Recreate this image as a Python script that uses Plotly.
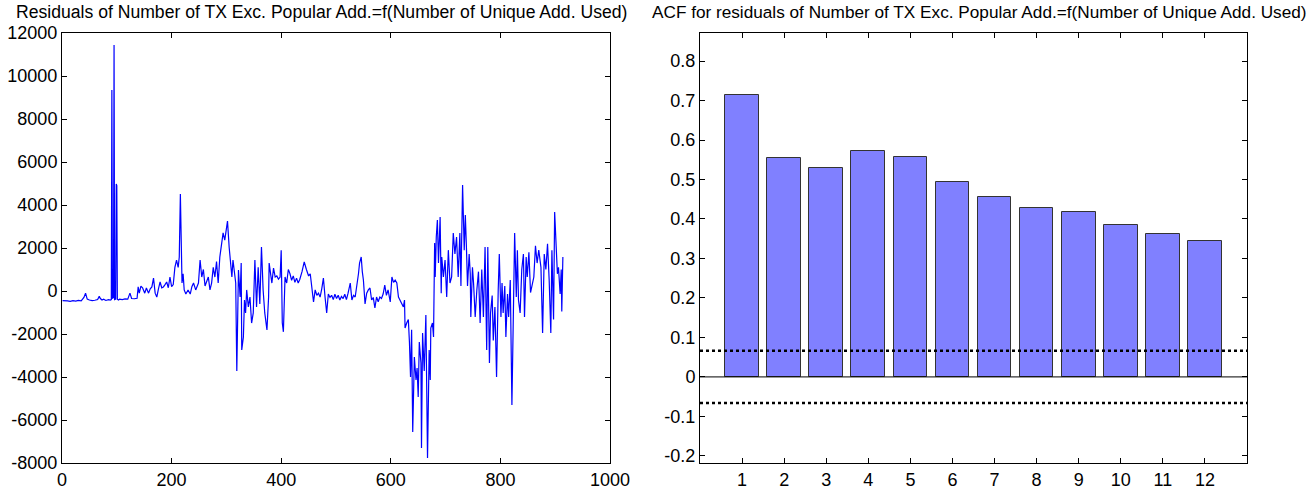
import plotly.graph_objects as go

# ---------------- data ----------------
sample_idx = [1,5,10,15,20,25,30,35,40,43,46,50,55,60,65,68,70,73,76,80,85,88,
              90,91,92,94,95,96,98,99,100,101,103,
              105,110,115,120,124,127,132,137,139,141,144,147,151,154,158,161,164,167,170,173,176,179,182,185,188,191,194,197,200,
              203,206,209,212,214,216,218,219,221,223,226,230,234,237,240,244,249,252,255,258,261,264,267,270,273,276,279,282,285,288,291,294,297,300,
              302,305,308,310,312,314,317,319,322,325,327,328,331,333,335,337,340,343,346,349,352,355,358,361,364,367,370,374,377,378,381,383,386,389,392,395,398,
              400,402,404,407,410,413,416,419,422,425,428,431,434,438,442,446,450,453,456,459,462,465,468,471,474,477,480,483,486,489,492,495,498,
              501,504,507,510,513,516,519,522,526,529,532,535,538,541,543,546,548,550,553,556,559,562,565,568,571,574,577,580,583,586,589,592,595,597,599,
              602,605,608,611,614,617,620,623,625,626,629,632,634,636,638,640,643,646,648,650,652,655,656,658,661,664,667,670,672,673,676,678,680,681,683,685,687,690,692,693,696,699,
              702,705,708,711,714,717,720,723,726,728,729,731,734,736,738,740,743,745,746,749,751,754,757,760,763,766,769,772,775,777,780,782,785,787,790,793,796,798,
              801,803,805,808,810,813,815,818,821,824,826,829,831,833,836,839,842,844,847,849,852,855,858,861,864,867,870,874,877,880,883,886,889,892,894,897,899,
              902,904,906,909,911,912,914]
residual = [-450,-470,-460,-480,-450,-470,-440,-460,-300,-100,-380,-420,-450,-430,-400,-250,-350,-420,-380,-440,-400,-420,
            -400,9350,-350,-300,11440,-400,-380,4980,4900,-380,-420,
            -380,-400,-370,-380,-100,-350,-360,-340,190,-100,230,150,-100,140,-100,100,190,600,-100,-280,100,420,150,190,300,420,150,650,200,
            300,1100,1440,1100,1580,4510,1100,370,800,50,-140,50,-140,200,370,50,370,1440,650,1000,230,500,650,50,370,1100,650,1370,370,1580,2050,2700,2370,2840,
            3250,2050,1000,650,1440,1100,370,-3720,980,-280,1300,-2740,-2140,-420,-1020,50,-740,-280,-1490,-1020,1440,-740,1100,-600,2050,50,-1020,-1810,-280,1300,600,370,1070,650,700,550,650,
            1900,-1490,-1900,650,370,1000,800,500,700,400,600,370,550,900,1350,1000,700,800,200,-510,50,-200,-100,-280,100,600,-280,-1020,-140,-300,-200,-400,-150,
            -350,-200,-420,-250,-350,-150,-400,-100,370,-420,-200,-280,200,800,1300,1580,900,510,-600,-100,50,140,-420,-300,-790,-280,-500,-280,-350,-140,270,-200,50,-250,-510,
            650,400,510,370,-280,-420,-600,-740,-420,-1720,-1490,-1330,-2370,-4000,-1800,-6560,-3070,-4140,-3580,-4930,-2370,-3350,-7300,-1950,-3720,-1120,-7770,-2740,-4140,-1720,-1490,-2140,2230,650,2510,3300,1300,3440,-100,1580,650,1440,
            -280,1900,370,650,2700,1720,2510,650,2700,230,1900,4930,1900,3530,2050,230,1720,800,-1210,1100,370,-1210,50,900,-1490,1000,-1210,2050,-2740,2050,-3350,-1020,-210,-2300,-740,-4000,50,1720,
            -1210,370,-1020,230,-2140,-140,-1210,510,-5300,-740,2700,-280,1900,-420,-1020,1000,1720,-1210,1580,650,1800,-70,370,650,2100,1300,1900,1100,-1950,1720,1000,2200,510,-1950,1900,-1330,3670,
            2050,800,1100,-140,1000,-950,1580]

lags = [1,2,3,4,5,6,7,8,9,10,11,12]
acf_values = [0.713,0.555,0.528,0.572,0.558,0.493,0.455,0.427,0.418,0.385,0.362,0.345]
conf_bound = 0.066

left_title = "Residuals of Number of TX Exc. Popular Add.=f(Number of Unique Add. Used)"
right_title = "ACF for residuals of Number of TX Exc. Popular Add.=f(Number of Unique Add. Used)"

left_yticks = [-8000,-6000,-4000,-2000,0,2000,4000,6000,8000,10000,12000]
left_xticks = [0,200,400,600,800,1000]
right_yticks = [-0.2,-0.1,0,0.1,0.2,0.3,0.4,0.5,0.6,0.7,0.8]

def lab(v):
    if isinstance(v, float):
        s = ("%.1f" % v)
        if s in ("0.0", "-0.0"):
            s = "0"
    else:
        s = str(v)
    return s

# ---------------- figure ----------------
W, H = 1313, 489
FONT = "Liberation Sans, Arial, sans-serif"
fig = go.Figure()

fig.add_trace(go.Scatter(x=sample_idx, y=residual, mode="lines",
                         line=dict(color="#0000ff", width=1.2),
                         xaxis="x", yaxis="y", showlegend=False, hoverinfo="skip"))

fig.add_trace(go.Bar(x=lags, y=acf_values, width=0.8,
                     marker=dict(color="#8080ff", line=dict(color="#333333", width=1)),
                     xaxis="x2", yaxis="y2", showlegend=False))

# zero line and confidence bounds
fig.add_trace(go.Scatter(x=[0,13], y=[0,0], mode="lines", line=dict(color="black", width=1),
                         xaxis="x2", yaxis="y2", showlegend=False, hoverinfo="skip"))
for b in (conf_bound, -conf_bound):
    fig.add_trace(go.Scatter(x=[0,13], y=[b,b], mode="lines",
                             line=dict(color="black", width=2.5, dash="dot"),
                             xaxis="x2", yaxis="y2", showlegend=False, hoverinfo="skip"))

y0 = 1 - 463/H
y1 = 1 - 33/H
axis_common = dict(showgrid=False, zeroline=False, showline=True, linecolor="black", linewidth=1,
                   mirror="allticks", ticks="inside", ticklen=5, tickcolor="black",
                   automargin=False,
                   tickfont=dict(family=FONT, size=18, color="black"))

fig.update_layout(
    template="none",
    width=W, height=H, margin=dict(l=0, r=0, t=0, b=0, pad=0),
    paper_bgcolor="white", plot_bgcolor="white",
    bargap=0,
    xaxis=dict(domain=[62/W, 610/W], range=[0,1000], anchor="y",
               tickvals=left_xticks, ticktext=[lab(v) for v in left_xticks], **axis_common),
    yaxis=dict(domain=[y0, y1], range=[-8000,12000], anchor="x",
               tickvals=left_yticks, ticktext=[lab(v) for v in left_yticks], **axis_common),
    xaxis2=dict(domain=[700/W, 1247/W], range=[0,13], anchor="y2",
                tickvals=lags, ticktext=[str(v) for v in lags], **axis_common),
    yaxis2=dict(domain=[y0, y1], range=[-0.218,0.871], anchor="x2",
                tickvals=right_yticks, ticktext=[lab(float(v)) for v in right_yticks], **axis_common),
    annotations=[
        dict(text=left_title, x=321.5/W, y=1-12/H, xref="paper", yref="paper",
             xanchor="center", yanchor="middle", showarrow=False,
             font=dict(family=FONT, size=17.6, color="black")),
        dict(text=right_title, x=979/W, y=1-12/H, xref="paper", yref="paper",
             xanchor="center", yanchor="middle", showarrow=False,
             font=dict(family=FONT, size=17.2, color="black")),
    ],
)

fig.write_html("out.html")
